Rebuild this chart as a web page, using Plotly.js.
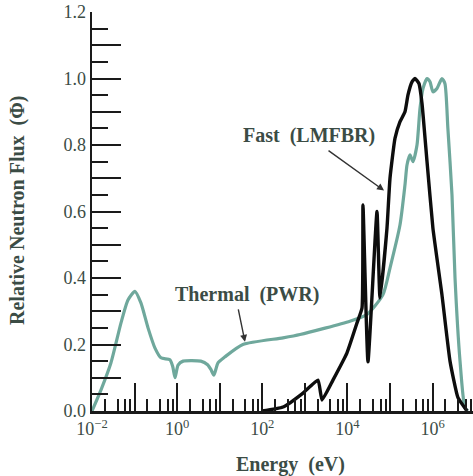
<!DOCTYPE html>
<html><head><meta charset="utf-8">
<script src="https://cdn.plot.ly/plotly-3.0.1.min.js"></script>
<style>html,body{margin:0;padding:0;background:#fff}</style>
</head><body><div id="chart" style="width:473px;height:476px"></div>
<script>
// Thermal (PWR) spectrum: energy in eV, relative flux
const thermalEnergy = [0.01, 0.0162, 0.0279, 0.048, 0.07, 0.102, 0.141, 0.207, 0.30, 0.417, 0.676, 0.79, 0.89, 1.05, 1.38, 3.6, 5.2, 6.2, 7.3, 9.1, 13.3, 35, 307, 770, 11500, 28800, 68500, 100000, 172000, 225000, 251000, 295000, 347000, 431000, 507000, 596000, 741000, 871000, 1.02e6, 1.27e6, 1.66e6, 1.95e6, 2.29e6, 2.86e6, 3.37e6, 4.42e6, 5.75e6, 6.76e6];
const thermalFlux   = [0.0, 0.063, 0.145, 0.265, 0.334, 0.36, 0.325, 0.25, 0.19, 0.16, 0.154, 0.133, 0.10, 0.138, 0.15, 0.15, 0.139, 0.125, 0.108, 0.145, 0.163, 0.20, 0.22, 0.23, 0.27, 0.29, 0.35, 0.43, 0.56, 0.68, 0.74, 0.77, 0.75, 0.80, 0.91, 0.97, 1.0, 0.99, 0.96, 0.97, 1.0, 0.985, 0.85, 0.65, 0.40, 0.15, 0.01, 0.0];
// Fast (LMFBR) spectrum
const fastEnergy = [98, 307, 906, 2040, 2530, 4570, 9770, 16800, 22000, 23200, 30400, 49500, 58200, 85000, 100000, 131000, 172000, 225000, 264000, 329000, 387000, 479000, 565000, 741000, 1.02e6, 1.66e6, 2.57e6, 3.95e6, 6.46e6];
const fastFlux   = [0.0, 0.012, 0.054, 0.093, 0.033, 0.093, 0.175, 0.265, 0.31, 0.62, 0.148, 0.60, 0.34, 0.55, 0.70, 0.82, 0.87, 0.90, 0.95, 0.99, 1.0, 0.985, 0.925, 0.75, 0.55, 0.35, 0.15, 0.04, 0.0];

const xTickVals = [0.01, 0.1, 1, 10, 100, 1e3, 1e4, 1e5, 1e6];
const xTickText = ['10<sup>−2</sup>', ' ', '10<sup>0</sup>', ' ', '10<sup>2</sup>', ' ', '10<sup>4</sup>', ' ', '10<sup>6</sup>'];
const xMinorMult = [2, 4, 6, 8];
const yTickVals = [0, 0.1, 0.2, 0.3, 0.4, 0.5, 0.6, 0.7, 0.8, 0.9, 1.0, 1.1, 1.2];
const yTickText = ['0.0', ' ', '0.2', ' ', '0.4', ' ', '0.6', ' ', '0.8', ' ', '1.0', ' ', '1.2'];
const yMinorVals = [0.05, 0.15, 0.25, 0.35, 0.45, 0.55, 0.65, 0.75, 0.85, 0.95, 1.05, 1.15];
const xTitle = 'Energy  (eV)';
const yTitle = 'Relative Neutron Flux  (Φ)';
const fastLabel = 'Fast  (LMFBR)';
const thermalLabel = 'Thermal  (PWR)';

const xMinorVals = [];
xTickVals.forEach(d => xMinorMult.forEach(m => xMinorVals.push(d * m)));

const serif = 'Liberation Serif, Times New Roman, serif';
const txt = '#3b4c45';
const ink = '#1a1a1a';
const teal = '#6fa89c';

const traces = [
  {x: thermalEnergy, y: thermalFlux, mode: 'lines', line: {color: teal, width: 3.2, shape: 'spline', smoothing: 0.6}, hoverinfo: 'skip'},
  {x: fastEnergy, y: fastFlux, mode: 'lines', line: {color: '#0d0d0d', width: 3.4, shape: 'spline', smoothing: 0.4}, hoverinfo: 'skip'}
];

const layout = {
  width: 473, height: 476,
  margin: {l: 92, r: 0, t: 12, b: 65},
  paper_bgcolor: '#fff', plot_bgcolor: '#fff',
  showlegend: false,
  font: {family: serif, color: txt, size: 18},
  xaxis: {
    type: 'log', range: [-2, 6.95],
    tickmode: 'array', tickvals: xTickVals, ticktext: xTickText,
    ticks: 'inside', ticklen: 28, tickwidth: 2, tickcolor: ink,
    minor: {tickmode: 'array', tickvals: xMinorVals, ticks: 'inside', ticklen: 12, tickwidth: 2, tickcolor: ink},
    showline: true, linecolor: ink, linewidth: 2.5, showgrid: false, zeroline: false,
    tickfont: {family: serif, size: 18, color: txt}
  },
  yaxis: {
    range: [0, 1.2],
    tickmode: 'array', tickvals: yTickVals, ticktext: yTickText,
    ticks: 'inside', ticklen: 29, tickwidth: 2, tickcolor: ink,
    minor: {tickmode: 'array', tickvals: yMinorVals, ticks: 'inside', ticklen: 16, tickwidth: 2, tickcolor: ink},
    showline: true, linecolor: ink, linewidth: 2.5, showgrid: false, zeroline: false,
    tickfont: {family: serif, size: 18, color: txt}
  },
  annotations: [
    {xref: 'paper', yref: 'paper', x: 0.522, y: -0.135, xanchor: 'center', yanchor: 'middle', text: '<b>' + xTitle + '</b>', showarrow: false, font: {family: serif, size: 20, color: txt}},
    {xref: 'paper', yref: 'paper', x: -0.194, y: 0.504, xanchor: 'center', yanchor: 'middle', textangle: -90, text: '<b>' + yTitle + '</b>', showarrow: false, font: {family: serif, size: 20, color: txt}},
    {x: 3.097, y: 0.828, xref: 'x', yref: 'y', text: '<b>' + fastLabel + '</b>', showarrow: false, font: {family: serif, size: 20, color: txt}},
    {x: 4.86, y: 0.663, xref: 'x', yref: 'y', text: '', showarrow: true, ax: -57, ay: -41, arrowhead: 2, arrowsize: 1, arrowwidth: 1.4, arrowcolor: '#333'},
    {x: 1.641, y: 0.349, xref: 'x', yref: 'y', text: '<b>' + thermalLabel + '</b>', showarrow: false, font: {family: serif, size: 20, color: txt}},
    {x: 1.594, y: 0.208, xref: 'x', yref: 'y', text: '', showarrow: true, ax: -7, ay: -34, arrowhead: 2, arrowsize: 1, arrowwidth: 1.4, arrowcolor: '#333'}
  ]
};

Plotly.newPlot('chart', traces, layout, {staticPlot: true, displayModeBar: false});
</script>
</body></html>
